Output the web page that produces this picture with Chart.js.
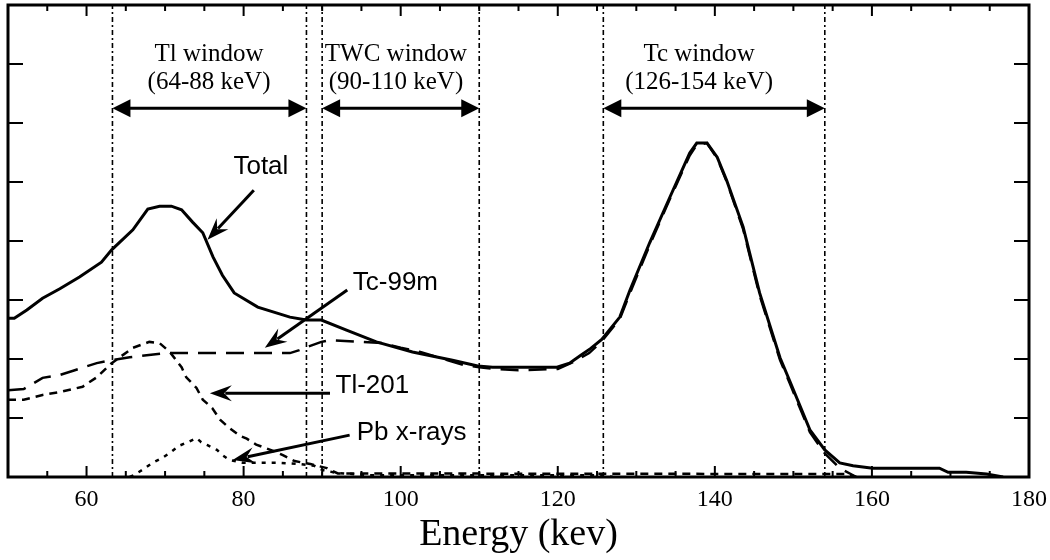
<!DOCTYPE html>
<html>
<head>
<meta charset="utf-8">
<script src="https://cdn.jsdelivr.net/npm/chart.js@4.4.1/dist/chart.umd.min.js"></script>
<style>
  html, body { margin: 0; padding: 0; background: #fff; }
  #wrap { width: 1050px; height: 560px; }
</style>
</head>
<body>
<div id="wrap"><canvas id="spectrumChart"></canvas></div>
<script>
// energy (keV) / relative counts
const totalEnergy = [50, 50.8, 52.4, 54.4, 56.6, 59.1, 61.9, 63.2, 65.9, 67.8, 69.3, 70.8, 72.1, 73.5, 74.8, 76.1, 77.3, 78.8, 81.8, 85.9, 88, 89.9, 93.1, 96.9, 101.5, 106.6, 109.8, 111.7, 119.9, 121.5, 122.8, 124.2, 125.6, 127.9, 129.2, 131.7, 134.3, 136.8, 137.7, 139.0, 140.3, 141.5, 143.6, 145.7, 148.3, 149.5, 152.1, 154.0, 155.9, 157.6, 160.1, 168.6, 169.7, 172, 174.6, 176.7];
const totalCounts = [2.69, 2.69, 2.83, 3.03, 3.19, 3.39, 3.64, 3.85, 4.19, 4.54, 4.59, 4.59, 4.53, 4.32, 4.14, 3.73, 3.42, 3.12, 2.88, 2.71, 2.66, 2.66, 2.49, 2.29, 2.12, 1.98, 1.88, 1.86, 1.86, 1.93, 2.05, 2.18, 2.33, 2.71, 3.17, 3.97, 4.75, 5.49, 5.66, 5.66, 5.42, 5.03, 4.24, 3.12, 2.02, 1.64, 0.80, 0.46, 0.24, 0.19, 0.15, 0.15, 0.08, 0.08, 0.05, 0];

const tcEnergy = [50, 52, 54.4, 56.6, 58.5, 61.3, 63.2, 65.5, 70.2, 80, 85.9, 87.1, 88, 89.9, 91, 95, 97.7, 100, 102.5, 106, 108, 110, 112, 115, 120, 122, 124, 125.6, 127.9, 129.2, 131.7, 134.3, 136.8, 137.7, 139.0, 140.3, 141.5, 143.6, 145.7, 148.3, 149.5, 152.1, 154.0, 155.9, 157.6, 158];
const tcCounts = [1.47, 1.49, 1.68, 1.73, 1.81, 1.93, 1.98, 2.03, 2.10, 2.10, 2.10, 2.15, 2.20, 2.29, 2.32, 2.29, 2.27, 2.19, 2.12, 1.98, 1.90, 1.86, 1.83, 1.81, 1.83, 1.95, 2.10, 2.30, 2.68, 3.12, 3.93, 4.72, 5.45, 5.63, 5.66, 5.40, 5.01, 4.20, 3.08, 1.98, 1.60, 0.76, 0.40, 0.15, 0.03, 0];

const tlEnergy = [50, 52, 54.4, 56.6, 59.5, 61.3, 63.2, 65.9, 68, 69.3, 70.6, 72.1, 72.7, 74.0, 74.8, 76.0, 77.0, 78.2, 79.5, 80.4, 81.6, 84.2, 85.0, 86.5, 88.5, 90.6, 92, 157, 158];
const tlCounts = [1.31, 1.31, 1.39, 1.44, 1.53, 1.69, 1.93, 2.19, 2.29, 2.27, 2.12, 1.86, 1.69, 1.51, 1.31, 1.17, 0.97, 0.83, 0.70, 0.65, 0.55, 0.42, 0.37, 0.27, 0.22, 0.15, 0.06, 0.05, 0];

const pbEnergy = [65.5, 66, 67.1, 68.4, 69.6, 70.6, 71.8, 72.9, 74.0, 74.6, 75.4, 76.6, 77.3, 78.2, 79.9, 84.6, 87.1, 89.0, 90, 91.8, 96, 126, 127];
const pbCounts = [0, 0.03, 0.12, 0.24, 0.32, 0.41, 0.53, 0.59, 0.66, 0.59, 0.54, 0.46, 0.37, 0.29, 0.24, 0.24, 0.22, 0.19, 0.12, 0.07, 0.03, 0.03, 0];

const windowEdges = [63.3, 88, 90, 110, 125.8, 154];
const windowNames = ["Tl window", "TWC window", "Tc window"];
const windowRanges = ["(64-88 keV)", "(90-110 keV)", "(126-154 keV)"];

const SERIF = "'Liberation Serif', 'Times New Roman', serif";
const SANS = "'Liberation Sans', Arial, sans-serif";

function toPoints(xs, ys) {
  return xs.map((x, i) => ({ x, y: ys[i] }));
}

// window labels and the curve call-outs, in data units
const windowLabelX = [75.6, 99.4, 138.0];
const windowLabelY = [7.17, 6.69];
const windowArrowY = 6.25;

const callouts = [
  { text: "Total",     tx: 82.2, ty: 5.25, align: "center", from: [81.3, 4.86], to: [75.4, 4.02] },
  { text: "Tc-99m",    tx: 93.9, ty: 3.29, align: "left",   from: [93.2, 3.17], to: [82.7, 2.19] },
  { text: "Tl-201",    tx: 91.7, ty: 1.54, align: "left",   from: [91.0, 1.42], to: [75.7, 1.42] },
  { text: "Pb x-rays", tx: 94.4, ty: 0.75, align: "left",   from: [93.5, 0.71], to: [78.6, 0.29] }
];

function arrowHead(ctx, x1, y1, x2, y2, len, half, notch) {
  const a = Math.atan2(y2 - y1, x2 - x1);
  const c = Math.cos(a), s = Math.sin(a);
  const bx = x2 - len * c, by = y2 - len * s;
  ctx.beginPath();
  ctx.moveTo(x2, y2);
  ctx.lineTo(bx + half * s, by - half * c);
  ctx.lineTo(x2 - len * notch * c, y2 - len * notch * s);
  ctx.lineTo(bx - half * s, by + half * c);
  ctx.closePath();
  ctx.fill();
}

function arrowLine(ctx, x1, y1, x2, y2, len, half, notch) {
  const a = Math.atan2(y2 - y1, x2 - x1);
  ctx.beginPath();
  ctx.moveTo(x1, y1);
  ctx.lineTo(x2 - len * 0.7 * Math.cos(a), y2 - len * 0.7 * Math.sin(a));
  ctx.stroke();
  arrowHead(ctx, x1, y1, x2, y2, len, half, notch);
}

const framePlugin = {
  id: "frameAndNotes",
  afterDraw(chart) {
    const { ctx, chartArea: area, scales } = chart;
    const xs = scales.x, ys = scales.y;
    ctx.save();
    ctx.strokeStyle = "#000";
    ctx.fillStyle = "#000";

    // inward ticks, bottom and top
    ctx.lineWidth = 2;
    for (let v = xs.min + 5; v < xs.max; v += 5) {
      const px = xs.getPixelForValue(v);
      const len = v % 20 === 0 ? 11 : 6;
      ctx.beginPath();
      ctx.moveTo(px, area.bottom); ctx.lineTo(px, area.bottom - len);
      ctx.moveTo(px, area.top); ctx.lineTo(px, area.top + len);
      ctx.stroke();
    }
    // inward ticks, left and right
    for (let v = ys.min + 1; v < ys.max; v += 1) {
      const py = ys.getPixelForValue(v);
      ctx.beginPath();
      ctx.moveTo(area.left, py); ctx.lineTo(area.left + 15, py);
      ctx.moveTo(area.right, py); ctx.lineTo(area.right - 15, py);
      ctx.stroke();
    }

    // frame
    ctx.lineWidth = 3;
    ctx.strokeRect(area.left, area.top, area.right - area.left, area.bottom - area.top);

    // window labels and double arrows
    ctx.font = "25px " + SERIF;
    ctx.textAlign = "center";
    ctx.textBaseline = "middle";
    windowNames.forEach((name, i) => {
      const cx = xs.getPixelForValue(windowLabelX[i]);
      ctx.fillText(name, cx, ys.getPixelForValue(windowLabelY[0]));
      ctx.fillText(windowRanges[i], cx, ys.getPixelForValue(windowLabelY[1]));

      const left = xs.getPixelForValue(windowEdges[i * 2]);
      const right = xs.getPixelForValue(windowEdges[i * 2 + 1]);
      const ay = ys.getPixelForValue(windowArrowY);
      ctx.lineWidth = 3;
      ctx.beginPath();
      ctx.moveTo(left + 10, ay); ctx.lineTo(right - 10, ay);
      ctx.stroke();
      arrowHead(ctx, right, ay, left, ay, 18, 9, 1);
      arrowHead(ctx, left, ay, right, ay, 18, 9, 1);
    });

    // curve call-outs
    ctx.font = "26px " + SANS;
    callouts.forEach(c => {
      ctx.textAlign = c.align;
      ctx.fillText(c.text, xs.getPixelForValue(c.tx), ys.getPixelForValue(c.ty));
      ctx.lineWidth = 3;
      arrowLine(ctx,
        xs.getPixelForValue(c.from[0]), ys.getPixelForValue(c.from[1]),
        xs.getPixelForValue(c.to[0]), ys.getPixelForValue(c.to[1]),
        22, 8, 0.65);
    });

    ctx.restore();
  }
};

const curveStyle = {
  borderColor: "#000",
  pointRadius: 0,
  fill: false,
  tension: 0
};

const windowLines = windowEdges.map(edge => ({
  data: [{ x: edge, y: 0 }, { x: edge, y: 8 }],
  borderColor: "#000",
  borderWidth: 1.6,
  borderDash: [5, 3, 2, 3],
  pointRadius: 0,
  fill: false
}));

new Chart(document.getElementById("spectrumChart"), {
  type: "line",
  data: {
    datasets: [
      ...windowLines,
      { ...curveStyle, label: "Pb x-rays", data: toPoints(pbEnergy, pbCounts), borderWidth: 2.5, borderDash: [4, 6] },
      { ...curveStyle, label: "Tl-201", data: toPoints(tlEnergy, tlCounts), borderWidth: 2.5, borderDash: [8, 6] },
      { ...curveStyle, label: "Tc-99m", data: toPoints(tcEnergy, tcCounts), borderWidth: 2.5, borderDash: [18, 10] },
      { ...curveStyle, label: "Total", data: toPoints(totalEnergy, totalCounts), borderWidth: 3 }
    ]
  },
  options: {
    responsive: true,
    maintainAspectRatio: false,
    animation: false,
    devicePixelRatio: 1,
    layout: {
      padding: { left: 8, right: 21, top: 5, bottom: 0 }
    },
    plugins: {
      legend: { display: false },
      tooltip: { enabled: false }
    },
    scales: {
      x: {
        type: "linear",
        min: 50,
        max: 180,
        // invisible ticks only push the labels down; the drawn ticks are inward (plugin)
        grid: { display: true, drawOnChartArea: false, drawTicks: true, tickLength: 11, color: "rgba(0,0,0,0)" },
        border: { display: false },
        ticks: {
          stepSize: 20,
          includeBounds: false,
          autoSkip: false,
          maxRotation: 0,
          padding: 0,
          color: "#000",
          font: { family: SERIF, size: 24, lineHeight: 1 }
        },
        title: {
          display: true,
          text: "Energy (kev)",
          color: "#000",
          font: { family: SERIF, size: 38, lineHeight: 1 },
          padding: { top: 4, bottom: 6 }
        }
      },
      y: {
        type: "linear",
        display: false,
        min: 0,
        max: 8
      }
    }
  },
  plugins: [framePlugin]
});
</script>
</body>
</html>
